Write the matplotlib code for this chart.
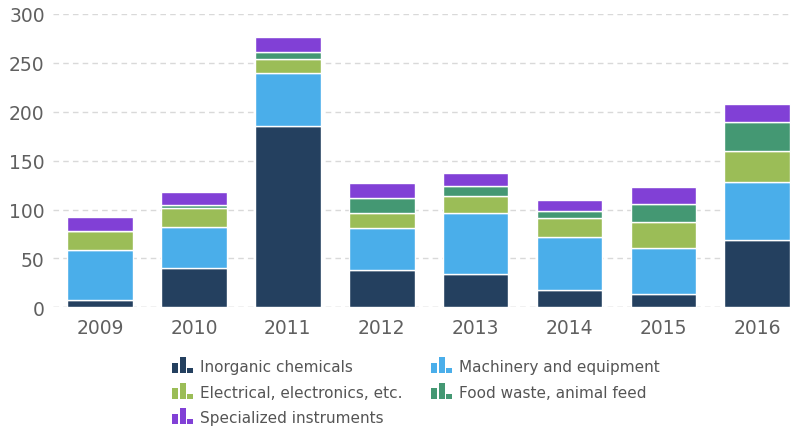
import matplotlib
matplotlib.use('Agg')
import matplotlib.pyplot as plt
from matplotlib.patches import Rectangle
from matplotlib.legend_handler import HandlerBase
import numpy as np

years = ['2009', '2010', '2011', '2012', '2013', '2014', '2015', '2016']
inorganic = [7, 40, 185, 38.5, 34.5, 18, 14, 69]
machinery = [52, 42.5, 55, 42.5, 61.5, 54, 47, 59]
electrical = [19, 19.5, 14, 15.5, 18, 19, 26, 32]
food_waste = [0, 2.5, 7, 15.5, 10, 7, 19, 30]
instruments = [14, 13.5, 15, 15, 13.5, 12, 17, 18]

series = [
    ('Inorganic chemicals', inorganic, '#24405f'),
    ('Machinery and equipment', machinery, '#4aaeea'),
    ('Electrical, electronics, etc.', electrical, '#9bbd57'),
    ('Food waste, animal feed', food_waste, '#449873'),
    ('Specialized instruments', instruments, '#8140d6'),
]


class BarIconHandler(HandlerBase):
    # small "bar chart" glyph instead of a plain patch
    def create_artists(self, legend, orig_handle, xdescent, ydescent,
                       width, height, fontsize, trans):
        color = orig_handle.get_facecolor()
        bw = width / 3.4
        arts = []
        for i, h in enumerate([0.65, 1.0, 0.3]):
            r = Rectangle((i * bw * 1.25, -ydescent - 1), bw, (height + 3) * h,
                          facecolor=color, edgecolor='none', transform=trans)
            arts.append(r)
        return arts


fig = plt.figure(figsize=(7.92, 4.27), dpi=100)
ax = fig.add_axes([0.067, 0.278, 0.933, 0.687])

x = np.arange(len(years))
bottom = np.zeros(len(years))
handles = {}
for name, vals, col in series:
    vals = np.array(vals)
    ax.bar(x, vals, width=0.7, bottom=bottom, color=col,
           edgecolor='white', linewidth=1, label=name, zorder=3)
    handles[name] = Rectangle((0, 0), 1, 1, facecolor=col)
    bottom += vals

ax.set_ylim(0, 300)
ax.set_xlim(-0.5, 7.37)
ax.set_yticks([0, 50, 100, 150, 200, 250, 300])
ax.set_xticks(x)
ax.set_xticklabels(years)
ax.yaxis.grid(True, color='#d9d9d9', linestyle=(0, (4, 3)), linewidth=1, zorder=0)
ax.set_axisbelow(True)
for s in ax.spines.values():
    s.set_visible(False)
ax.tick_params(axis='both', length=0, labelsize=13.5, colors='#606060')
ax.tick_params(axis='y', pad=6)
ax.tick_params(axis='x', pad=8)
ax.axhline(0, color='#d9d9d9', linestyle=(0, (4, 3)), linewidth=1, zorder=1)

# legend fills column by column, so order for row-wise reading
order = ['Inorganic chemicals', 'Electrical, electronics, etc.', 'Specialized instruments',
         'Machinery and equipment', 'Food waste, animal feed']
leg = fig.legend([handles[n] for n in order], order, loc='upper left',
                 bbox_to_anchor=(0.208, 0.175),
                 ncol=2, frameon=False, fontsize=11, labelcolor='#555555',
                 handler_map={Rectangle: BarIconHandler()},
                 handlelength=1.3, handleheight=0.8, handletextpad=0.5,
                 columnspacing=1.9, labelspacing=0.7, borderpad=0)

fig.savefig('out.png', dpi=100)
